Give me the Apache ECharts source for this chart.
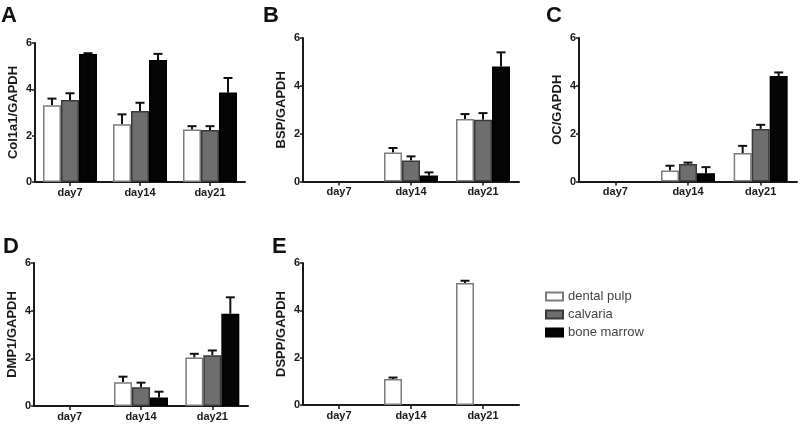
<!DOCTYPE html>
<html>
<head>
<meta charset="utf-8">
<script src="https://cdn.jsdelivr.net/npm/echarts@6/dist/echarts.min.js"></script>
<style>
html,body{margin:0;padding:0;background:#fff;}
#chart{width:800px;height:424px;}
</style>
</head>
<body>
<div id="chart"></div>
<script>
// ---- data ----
const categories = ['day7', 'day14', 'day21'];
const seriesNames = ['dental pulp', 'calvaria', 'bone marrow'];
const yTicks = [0, 2, 4, 6];
const panelLetters = ['A', 'B', 'C', 'D', 'E'];
const yTitles = ['Col1a1/GAPDH', 'BSP/GAPDH', 'OC/GAPDH', 'DMP1/GAPDH', 'DSPP/GAPDH'];

// rows: dental pulp, calvaria, bone marrow; columns: day7, day14, day21
const col1a1Mean = [[3.31, 2.49, 2.27], [3.54, 3.06, 2.24], [5.52, 5.27, 3.86]];
const col1a1Err  = [[0.29, 0.43, 0.14], [0.29, 0.36, 0.17], [0.04, 0.26, 0.63]];
const bspMean    = [[0, 1.21, 2.61], [0, 0.88, 2.58], [0, 0.25, 4.81]];
const bspErr     = [[0, 0.19, 0.21], [0, 0.17, 0.28], [0, 0.13, 0.59]];
const ocMean     = [[0, 0.46, 1.19], [0, 0.73, 2.20], [0, 0.35, 4.41]];
const ocErr      = [[0, 0.20, 0.30], [0, 0.06, 0.17], [0, 0.25, 0.15]];
const dmp1Mean   = [[0, 1.00, 2.03], [0, 0.79, 2.13], [0, 0.36, 3.87]];
const dmp1Err    = [[0, 0.23, 0.16], [0, 0.19, 0.20], [0, 0.24, 0.69]];
const dsppMean   = [[0, 1.10, 5.16], [0, 0, 0], [0, 0, 0]];
const dsppErr    = [[0, 0.06, 0.09], [0, 0, 0], [0, 0, 0]];

const panelMeans = [col1a1Mean, bspMean, ocMean, dmp1Mean, dsppMean];
const panelErrs = [col1a1Err, bspErr, ocErr, dmp1Err, dsppErr];

// ---- layout / style ----
const FONT = "'Liberation Sans', Arial, sans-serif";
const grids = [
  {left: 35, top: 43, width: 210, height: 139},
  {left: 303, top: 38, width: 216, height: 143.5},
  {left: 579, top: 38, width: 218, height: 143.5},
  {left: 34, top: 263, width: 214, height: 143},
  {left: 303, top: 263, width: 216, height: 142}
];
const letterPos = [[1, 5], [263, 5], [546, 5], [3, 236], [272, 236]];
const BAR_W = 18;
const fills = ['#ffffff', '#6e6e6e', '#050505'];
const borders = ['#7c7c7c', '#3a3a3a', '#000000'];

const xAxes = [], yAxes = [], series = [], titles = [];
grids.forEach((g, p) => {
  xAxes.push({
    gridIndex: p, type: 'category', data: categories,
    axisLine: {show: true, lineStyle: {color: '#1a1a1a', width: 2}},
    axisTick: {show: true, alignWithLabel: true, length: 4, lineStyle: {color: '#1a1a1a', width: 1.5}},
    axisLabel: {fontFamily: FONT, fontWeight: 'bold', fontSize: 11, color: '#1a1a1a', margin: 5},
    splitLine: {show: false}
  });
  yAxes.push({
    gridIndex: p, type: 'value', min: yTicks[0], max: yTicks[yTicks.length - 1], interval: yTicks[1] - yTicks[0],
    name: yTitles[p], nameLocation: 'middle', nameGap: 15, nameRotate: 90,
    nameTextStyle: {fontFamily: FONT, fontWeight: 'bold', fontSize: 13, color: '#1a1a1a'},
    axisLine: {show: true, lineStyle: {color: '#1a1a1a', width: 2}},
    axisTick: {show: true, length: 3, lineStyle: {color: '#1a1a1a', width: 1.5}},
    axisLabel: {fontFamily: FONT, fontWeight: 'bold', fontSize: 11, color: '#1a1a1a', margin: 3},
    splitLine: {show: false}
  });
  titles.push({
    text: panelLetters[p], left: letterPos[p][0], top: letterPos[p][1], padding: 0,
    textStyle: {fontFamily: FONT, fontWeight: 'bold', fontSize: 22, color: '#111'}
  });
  const means = panelMeans[p], errs = panelErrs[p];
  const errData = [];
  seriesNames.forEach((name, s) => {
    series.push({
      name: name, type: 'bar', xAxisIndex: p, yAxisIndex: p,
      barWidth: BAR_W, barGap: '0%',
      data: means[s].map(v => (v > 0 ? v : null)),
      itemStyle: {color: fills[s], borderColor: borders[s], borderWidth: 1.5},
      emphasis: {disabled: true}
    });
    means[s].forEach((v, c) => {
      if (errs[s][c] > 0) errData.push([c, v, errs[s][c], s]);
    });
  });
  series.push({
    type: 'custom', xAxisIndex: p, yAxisIndex: p, z: 1,
    data: errData, encode: {x: 0, y: 1},
    renderItem: function (params, api) {
      const c = api.value(0), v = api.value(1), e = api.value(2), s = api.value(3);
      const base = api.coord([c, v]);
      const top = api.coord([c, v + e]);
      const x = base[0] + (s - 1) * BAR_W;
      const cap = 4.5;
      const st = {stroke: '#111', lineWidth: 2};
      return {
        type: 'group',
        children: [
          {type: 'line', shape: {x1: x, y1: base[1], x2: x, y2: top[1]}, style: st},
          {type: 'line', shape: {x1: x - cap, y1: top[1], x2: x + cap, y2: top[1]}, style: st}
        ]
      };
    }
  });
});

const chart = echarts.init(document.getElementById('chart'), null, {renderer: 'canvas'});
chart.setOption({
  animation: false,
  backgroundColor: '#ffffff',
  title: titles,
  grid: grids,
  xAxis: xAxes,
  yAxis: yAxes,
  legend: {
    data: seriesNames, orient: 'vertical', left: 540, top: 285,
    icon: 'rect', itemWidth: 17, itemHeight: 8, itemGap: 5,
    textStyle: {fontFamily: FONT, fontSize: 13, color: '#444'},
    selectedMode: false
  },
  series: series
});
</script>
</body>
</html>
